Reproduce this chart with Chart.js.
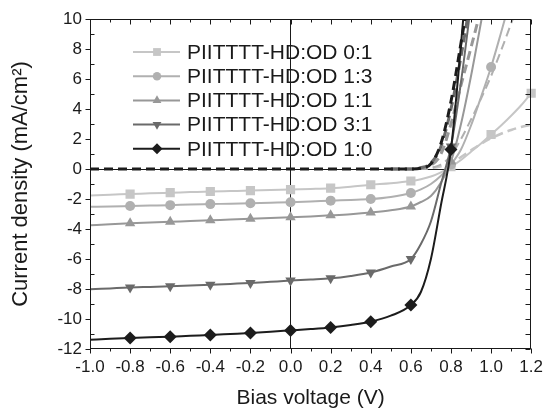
<!DOCTYPE html>
<html>
<head>
<meta charset="utf-8">
<script src="https://cdn.jsdelivr.net/npm/chart.js@4.4.0/dist/chart.umd.min.js"></script>
<style>
  html, body { margin: 0; padding: 0; background: #fff; }
  #wrap { width: 551px; height: 409px; position: relative; }
</style>
</head>
<body>
<div id="wrap"><canvas id="chart-jv"></canvas></div>
<script>
// bias voltage grid (V)
const voltage = [-1.0, -0.9, -0.8, -0.7, -0.6, -0.5, -0.4, -0.3, -0.2, -0.1, 0.0, 0.1, 0.2, 0.3, 0.4, 0.5, 0.6,
                 0.65, 0.7, 0.75, 0.8, 0.85, 0.9, 0.95, 1.0, 1.05, 1.1, 1.15, 1.2];

// current density under illumination (mA/cm2), solid lines
const illum01 = [-1.76, -1.71, -1.67, -1.62, -1.58, -1.54, -1.5, -1.47, -1.44, -1.4, -1.37, -1.33, -1.28, -1.18, -1.05, -0.95, -0.8,
                 -0.68, -0.5, -0.22, 0.15, 0.6, 1.15, 1.7, 2.3, 2.9, 3.55, 4.25, 5.05];
const illum13 = [-2.52, -2.5, -2.47, -2.44, -2.41, -2.37, -2.34, -2.31, -2.28, -2.25, -2.22, -2.17, -2.11, -2.06, -2.0, -1.86, -1.6,
                 -1.36, -1.0, -0.45, 0.3, 1.3, 2.9, 4.8, 6.8, 9.1, 11.5, null, null];
const illum11 = [-3.75, -3.68, -3.62, -3.57, -3.52, -3.47, -3.42, -3.37, -3.32, -3.27, -3.22, -3.16, -3.09, -3.01, -2.9, -2.75, -2.5,
                 -2.2, -1.8, -0.9, 0.5, 3.0, 6.2, 9.8, 13.5, null, null, null, null];
const illum31 = [-8.02, -7.96, -7.9, -7.86, -7.82, -7.77, -7.72, -7.66, -7.6, -7.52, -7.44, -7.37, -7.29, -7.13, -6.9, -6.5, -6.0,
                 -5.0, -3.5, -1.0, 1.5, 5.8, 11.0, null, null, null, null, null, null];
const illum10 = [-11.38, -11.32, -11.27, -11.22, -11.18, -11.12, -11.07, -11.0, -10.93, -10.85, -10.76, -10.67, -10.56, -10.4, -10.18, -9.78, -9.07,
                 -8.2, -6.0, -2.4, 1.3, 8.3, 16.0, null, null, null, null, null, null];

// dark current density (mA/cm2), dashed lines
// (the grey ones sit under the black dashes along 0, so only their rising part is listed)
const dark01 = [null, null, null, null, null, null, null, null, null, null, null, null, null, null, null, 0, 0,
                0.02, 0.06, 0.18, 0.38, 0.8, 1.25, 1.68, 2.05, 2.35, 2.6, 2.8, 2.95];
const dark13 = [null, null, null, null, null, null, null, null, null, null, null, null, null, null, null, 0, 0,
                0.02, 0.08, 0.3, 0.9, 2.0, 3.3, 4.7, 6.2, 7.9, 9.7, 11.5, null];
const dark11 = [null, null, null, null, null, null, null, null, null, null, null, null, null, null, null, 0, 0,
                0.05, 0.25, 1.0, 3.0, 5.6, 8.1, 10.7, null, null, null, null, null];
const dark31 = [null, null, null, null, null, null, null, null, null, null, null, null, null, null, null, 0, 0,
                0.08, 0.4, 1.5, 4.0, 7.5, 11.5, null, null, null, null, null, null];
const dark10 = [0, 0, 0, 0, 0, 0, 0, 0, 0, 0, 0, 0, 0, 0, 0, 0, 0,
                0.05, 0.35, 1.7, 4.5, 8.4, 12.5, null, null, null, null, null, null];

const seriesLabels = ['PIITTTT-HD:OD 0:1', 'PIITTTT-HD:OD 1:3', 'PIITTTT-HD:OD 1:1', 'PIITTTT-HD:OD 3:1', 'PIITTTT-HD:OD 1:0'];
const markerVoltages = [-0.8, -0.6, -0.4, -0.2, 0.0, 0.2, 0.4, 0.6, 0.8, 1.0, 1.2];
const xTicks = [-1.0, -0.8, -0.6, -0.4, -0.2, 0.0, 0.2, 0.4, 0.6, 0.8, 1.0, 1.2];
const yTicks = [-12, -10, -8, -6, -4, -2, 0, 2, 4, 6, 8, 10];

const illumSeries = [illum01, illum13, illum11, illum31, illum10];
const darkSeries = [dark01, dark13, dark11, dark31, dark10];
const colors = ['#c6c6c6', '#b0b0b0', '#989898', '#6a6a6a', '#1c1c1c'];
const markerStyle = ['rect', 'circle', 'triangle', 'triangle', 'rectRot'];
const markerRot = [0, 0, 0, 180, 0];
const markerSize = [6.5, 5, 6, 6, 6.5];
const darkWidth = [2.5, 2, 3, 3, 3];

const FONT = "'Liberation Sans', Arial, sans-serif";

const toPoints = ys => voltage.map((v, i) => ({x: v, y: ys[i]}));
const isMarker = v => markerVoltages.some(m => Math.abs(m - v) < 1e-6);

const datasets = [];
illumSeries.forEach((ys, i) => {
    datasets.push({
        label: seriesLabels[i],
        data: toPoints(ys),
        borderColor: colors[i],
        backgroundColor: colors[i],
        borderWidth: 2,
        pointStyle: markerStyle[i],
        rotation: markerRot[i],
        pointRadius: voltage.map(v => isMarker(v) ? markerSize[i] : 0),
        pointBorderWidth: 0,
        pointBackgroundColor: colors[i],
        cubicInterpolationMode: 'monotone',
        spanGaps: false,
        clip: {left: 0, top: 0, right: 8, bottom: 0},
        order: 4 - i
    });
});
darkSeries.forEach((ys, i) => {
    datasets.push({
        label: seriesLabels[i] + ' dark',
        data: toPoints(ys),
        borderColor: colors[i],
        borderWidth: darkWidth[i],
        borderDash: [9, 5],
        borderCapStyle: 'butt',
        pointRadius: 0,
        cubicInterpolationMode: 'monotone',
        spanGaps: false,
        clip: {left: 0, top: 0, right: 0, bottom: 0},
        order: 9 - i
    });
});

// box around the plot with in/out ticks, like the original figure
const framePlugin = {
    id: 'frame',
    afterDraw(chart) {
        const {ctx, chartArea: a, scales: {x, y}} = chart;
        const L = Math.round(a.left) + 0.5, R = Math.round(a.right) - 0.5;
        const T = Math.round(a.top) + 0.5, B = Math.round(a.bottom) - 0.5;
        ctx.save();
        ctx.strokeStyle = '#1a1a1a';
        ctx.lineWidth = 1;
        ctx.setLineDash([]);
        ctx.strokeRect(L, T, R - L, B - T);
        ctx.beginPath();
        for (let k = 0; k <= 22; k++) {
            const v = -1 + k * 0.1;
            const px = Math.round(x.getPixelForValue(v)) + 0.5;
            const major = k % 2 === 0;
            ctx.moveTo(px, B); ctx.lineTo(px, B + (major ? 5 : 3));
            ctx.moveTo(px, T); ctx.lineTo(px, T + (major ? 5 : 3));
        }
        for (let k = -12; k <= 10; k++) {
            const py = Math.round(y.getPixelForValue(k)) + 0.5;
            const major = k % 2 === 0;
            if (major) { ctx.moveTo(L, py); ctx.lineTo(L - 5, py); }
            else { ctx.moveTo(L, py); ctx.lineTo(L + 4, py); }
            ctx.moveTo(R, py); ctx.lineTo(R - 5, py);
        }
        ctx.stroke();
        ctx.restore();
    }
};

// legend drawn inside the plot: line + marker + text
const legendPlugin = {
    id: 'innerLegend',
    afterDraw(chart) {
        const ctx = chart.ctx;
        ctx.save();
        ctx.setLineDash([]);
        seriesLabels.forEach((label, i) => {
            const yRow = 52 + i * 24.2;
            ctx.strokeStyle = colors[i];
            ctx.lineWidth = 2;
            ctx.beginPath();
            ctx.moveTo(133, yRow);
            ctx.lineTo(180, yRow);
            ctx.stroke();
            ctx.fillStyle = colors[i];
            Chart.helpers.drawPoint(ctx, {
                pointStyle: markerStyle[i],
                radius: markerSize[i] * 0.85,
                rotation: markerRot[i],
                borderWidth: 0
            }, 157, yRow);
            ctx.fillStyle = '#1a1a1a';
            ctx.font = '21px ' + FONT;
            ctx.textAlign = 'left';
            ctx.textBaseline = 'middle';
            ctx.fillText(label, 187, yRow + 1);
        });
        ctx.restore();
    }
};

const fmt = v => Math.abs(v) < 1e-9 ? '0.0' : v.toFixed(1);

const ctxJV = document.getElementById('chart-jv');
const chartJV = new Chart(ctxJV, {
    type: 'line',
    data: {datasets: datasets},
    options: {
        responsive: true,
        maintainAspectRatio: false,
        animation: false,
        events: [],
        layout: {padding: {top: 19, right: 13, left: 0, bottom: 0}},
        scales: {
            x: {
                type: 'linear',
                min: -1.0,
                max: 1.2,
                afterFit: s => { s.height = 60; },
                afterBuildTicks: s => { s.ticks = xTicks.map(v => ({value: v})); },
                border: {display: false},
                grid: {
                    drawTicks: false,
                    lineWidth: 1,
                    color: c => (c.tick && Math.abs(c.tick.value) < 1e-9) ? '#1a1a1a' : 'rgba(0,0,0,0)'
                },
                ticks: {
                    padding: 8,
                    color: '#1a1a1a',
                    font: {family: FONT, size: 17},
                    callback: v => fmt(v)
                },
                title: {
                    display: true,
                    text: 'Bias voltage (V)',
                    color: '#1a1a1a',
                    font: {family: FONT, size: 21, lineHeight: 1},
                    padding: {top: 0, bottom: 0}
                }
            },
            y: {
                type: 'linear',
                min: -12,
                max: 10,
                afterFit: s => { s.width = 90; },
                afterBuildTicks: s => { s.ticks = yTicks.map(v => ({value: v})); },
                border: {display: false},
                grid: {
                    drawTicks: false,
                    lineWidth: 1,
                    color: c => (c.tick && c.tick.value === 0) ? '#1a1a1a' : 'rgba(0,0,0,0)'
                },
                ticks: {
                    padding: 8,
                    color: '#1a1a1a',
                    font: {family: FONT, size: 17},
                    callback: v => String(v)
                },
                title: {
                    display: true,
                    text: 'Current density (mA/cm²)',
                    color: '#1a1a1a',
                    font: {family: FONT, size: 22, lineHeight: 1},
                    padding: {top: 10, bottom: 0}
                }
            }
        },
        plugins: {
            legend: {display: false},
            tooltip: {enabled: false}
        }
    },
    plugins: [framePlugin, legendPlugin]
});
</script>
</body>
</html>
